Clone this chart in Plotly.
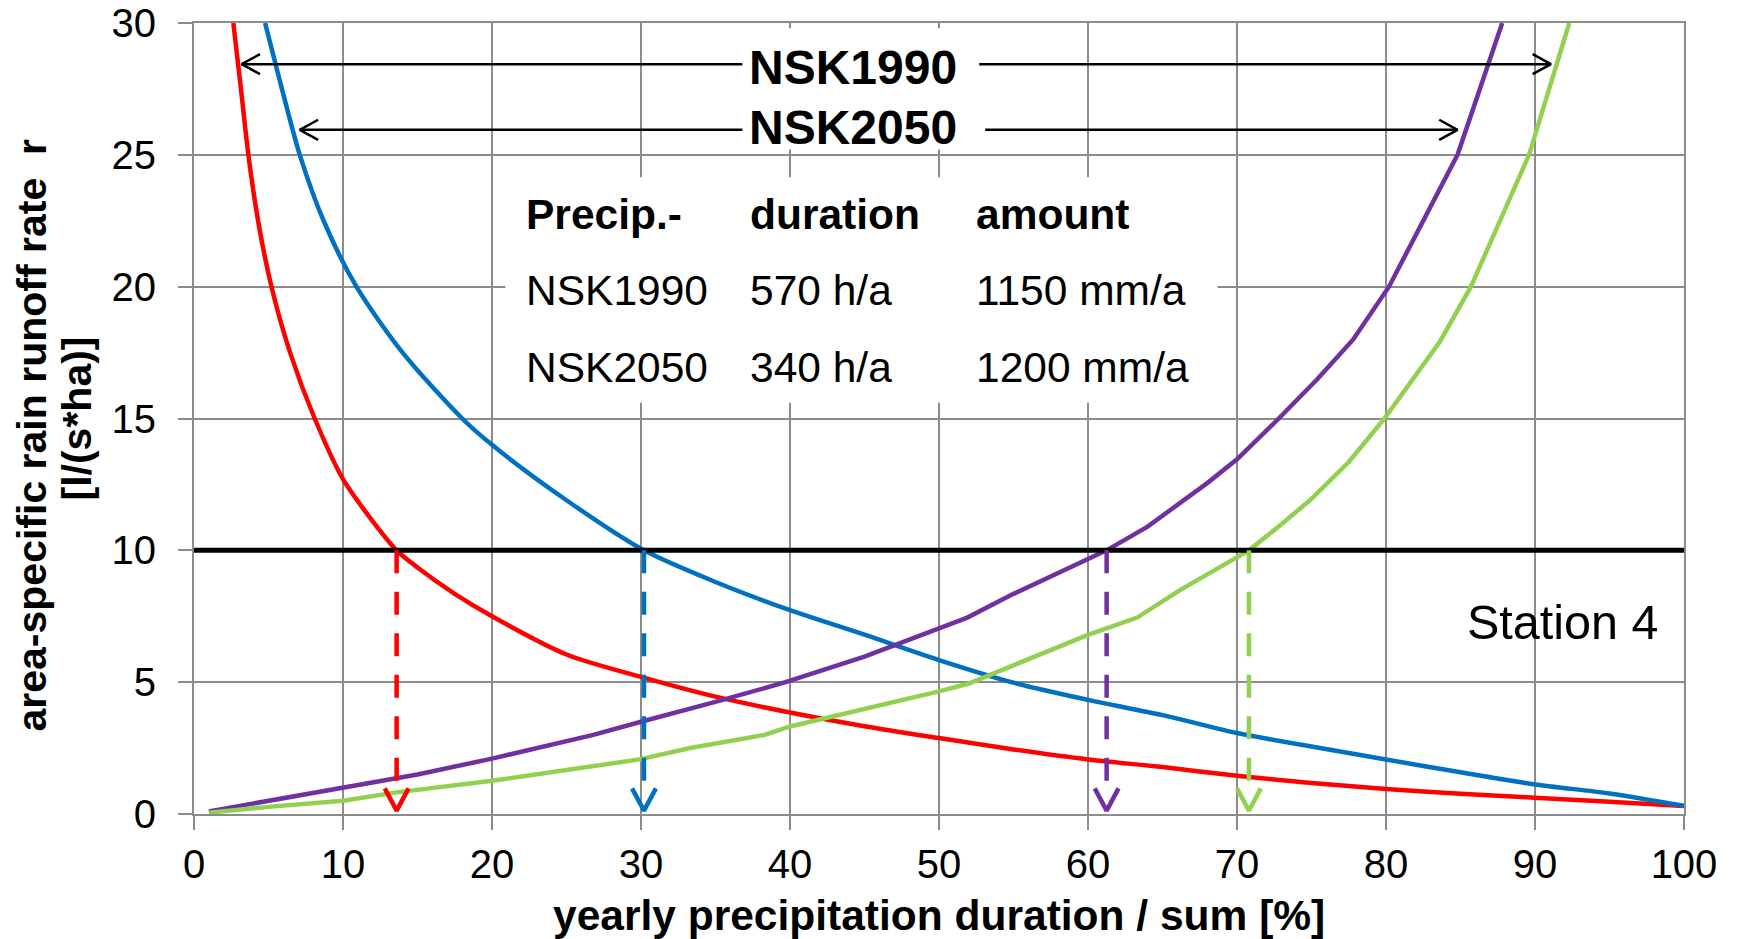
import plotly.graph_objects as go

# ---------------- data ----------------
red_x = [2.64, 3.15, 3.65, 4.3, 5.2, 6.45, 8.1, 10, 12, 13.6, 15, 17.5, 20, 25, 30, 35, 40, 45,
         50, 55, 60, 65, 70, 75, 80, 85, 90, 95, 100]
red_y = [30, 27.5, 25, 22.5, 20, 17.5, 15, 12.7, 11.1, 10, 9.35, 8.35, 7.5, 6.05, 5.2, 4.45, 3.85,
         3.33, 2.88, 2.45, 2.07, 1.78, 1.45, 1.18, 0.95, 0.77, 0.62, 0.46, 0.3]

blue_x = [4.77, 5.9, 7.1, 8.7, 10.9, 14.0, 18.0, 20, 25, 30.2, 35, 40, 45, 50, 55, 60, 65, 70,
          75, 80, 85, 90, 95, 100]
blue_y = [30, 27.5, 25, 22.5, 20, 17.5, 15, 14.0, 11.9, 10, 8.8, 7.73, 6.8, 5.84, 4.98, 4.33,
          3.75, 3.07, 2.56, 2.07, 1.58, 1.12, 0.78, 0.31]

purple_x = [1, 5, 10, 15, 20, 26.8, 30, 35, 39.7, 45, 50, 51.9, 55, 58, 61.25, 64, 66.2, 68, 70,
            72.8, 75.4, 77.8, 80.2, 82.5, 84.8, 86.3, 87.8]
purple_y = [0.1, 0.5, 1.0, 1.5, 2.1, 3.0, 3.5, 4.25, 5.0, 5.97, 7.04, 7.45, 8.35, 9.15, 10, 10.9,
            11.8, 12.55, 13.45, 15, 16.5, 18, 20, 22.5, 25, 27.5, 30]

green_x = [1, 5, 10, 13.6, 20, 25, 30, 33.3, 38.3, 40, 45, 50, 52, 55, 60, 63.3, 66.2, 68.5, 70.8,
           73, 75, 77.5, 79.9, 83.6, 85.7, 89.6, 92.3]
green_y = [0.05, 0.27, 0.5, 0.82, 1.26, 1.68, 2.08, 2.5, 3.0, 3.32, 3.97, 4.65, 4.95, 5.65, 6.79,
           7.45, 8.5, 9.25, 10, 11.0, 11.95, 13.35, 15, 17.9, 20, 25, 30]

threshold = 10
drop_x = [13.6, 30.2, 61.25, 70.8]          # where each curve meets the threshold
drop_end = 1.2                               # end of dashed drop line
drop_tip = 0.13                              # arrow tip value

arrow_labels = ["NSK1990", "NSK2050"]
arrow_y = [28.44, 25.95]
arrow_left = [3.2, 7.1]
arrow_right = [91.07, 84.8]
gap_left = [36.8, 36.8]
gap_right = [52.7, 53.1]

table_header = ["Precip.-", "duration", "amount"]
table_rows = [["NSK1990", "570 h/a", "1150 mm/a"],
              ["NSK2050", "340 h/a", "1200 mm/a"]]

station_label = "Station 4"
x_title = "yearly precipitation duration / sum [%]"
y_title_lines = ["area-specific rain runoff rate  r", "[l/(s*ha)]"]

# ---------------- style ----------------
FONT = "Liberation Sans, Arial, sans-serif"
GRID = "#8c8c8c"
C_RED, C_BLUE, C_PURPLE, C_GREEN = "#ff0000", "#0070c0", "#7030a0", "#92d050"
drop_colors = [C_RED, C_BLUE, C_PURPLE, C_GREEN]

fig = go.Figure()

for xs, ys, col, shp in [(red_x, red_y, C_RED, "spline"), (blue_x, blue_y, C_BLUE, "spline"),
                         (purple_x, purple_y, C_PURPLE, "linear"),
                         (green_x, green_y, C_GREEN, "linear")]:
    fig.add_trace(go.Scatter(x=xs, y=ys, mode="lines",
                             line=dict(color=col, width=4.5, shape=shp, smoothing=0.8),
                             hoverinfo="skip"))

# threshold line
fig.add_trace(go.Scatter(x=[0, 100], y=[threshold, threshold], mode="lines",
                         line=dict(color="black", width=5), hoverinfo="skip"))

# dashed drop arrows
hw, hh = 0.8, 0.84   # chevron half width (x units), height (y units)
for xd, col in zip(drop_x, drop_colors):
    fig.add_trace(go.Scatter(x=[xd, xd], y=[threshold, drop_end], mode="lines",
                             line=dict(color=col, width=4.5, dash="23px,18.5px"),
                             hoverinfo="skip"))
    fig.add_trace(go.Scatter(x=[xd - hw, xd, xd + hw],
                             y=[drop_tip + hh, drop_tip, drop_tip + hh], mode="lines",
                             line=dict(color=col, width=4.5), hoverinfo="skip"))

# horizontal double arrows
ax_len, ax_half = 1.23, 0.38
for yv, xl, xr, gl, gr in zip(arrow_y, arrow_left, arrow_right, gap_left, gap_right):
    fig.add_trace(go.Scatter(x=[xl, gl, None, gr, xr], y=[yv, yv, None, yv, yv], mode="lines",
                             line=dict(color="black", width=2.5), hoverinfo="skip"))
    fig.add_trace(go.Scatter(x=[xl + ax_len, xl, xl + ax_len], y=[yv + ax_half, yv, yv - ax_half],
                             mode="lines", line=dict(color="black", width=2.5), hoverinfo="skip"))
    fig.add_trace(go.Scatter(x=[xr - ax_len, xr, xr - ax_len], y=[yv + ax_half, yv, yv - ax_half],
                             mode="lines", line=dict(color="black", width=2.5), hoverinfo="skip"))

# white masks over gridlines behind labels
fig.add_shape(type="rect", x0=20.9, x1=68.7, y0=15.6, y1=24.15, xref="x", yref="y",
              fillcolor="white", line=dict(width=0), layer="between")
fig.add_shape(type="rect", x0=36.8, x1=52.9, y0=25.2, y1=29.8, xref="x", yref="y",
              fillcolor="white", line=dict(width=0), layer="between")

ann = []
label_y = [28.3, 26.03]
for lab, ly in zip(arrow_labels, label_y):
    ann.append(dict(x=44.2, y=ly, xref="x", yref="y", text="<b>%s</b>" % lab, showarrow=False,
                    font=dict(family=FONT, size=48, color="black"), xanchor="center",
                    yanchor="middle"))

col_x = [22.15, 37.15, 52.35]
row_y = [22.75, 19.87, 16.95]
for cx, t in zip(col_x, table_header):
    ann.append(dict(x=cx, y=row_y[0], xref="x", yref="y", text="<b>%s</b>" % t, showarrow=False,
                    font=dict(family=FONT, size=42.5, color="black"), xanchor="left",
                    yanchor="middle"))
for ry, row in zip(row_y[1:], table_rows):
    for cx, t in zip(col_x, row):
        ann.append(dict(x=cx, y=ry, xref="x", yref="y", text=t, showarrow=False,
                        font=dict(family=FONT, size=42.5, color="black"), xanchor="left",
                        yanchor="middle"))

ann.append(dict(x=98.4, y=7.27, xref="x", yref="y", text=station_label, showarrow=False,
                font=dict(family=FONT, size=48.5, color="black"), xanchor="right",
                yanchor="middle"))

ann.append(dict(x=0.5, y=0, xref="paper", yref="paper", text="<b>%s</b>" % x_title,
                showarrow=False, font=dict(family=FONT, size=42.5, color="black"),
                xanchor="center", yanchor="middle", yshift=-101))
ann.append(dict(x=0, y=0.5, xref="paper", yref="paper", text="<b>%s</b>" % y_title_lines[0],
                showarrow=False, font=dict(family=FONT, size=41, color="black"),
                textangle=-90, xanchor="center", yanchor="middle", xshift=-163, yshift=-17))
ann.append(dict(x=0, y=0.5, xref="paper", yref="paper", text="<b>%s</b>" % y_title_lines[1],
                showarrow=False, font=dict(family=FONT, size=41, color="black"),
                textangle=-90, xanchor="center", yanchor="middle", xshift=-118))

fig.update_layout(
    width=1739, height=939,
    margin=dict(l=194, r=55, t=23, b=125, autoexpand=False),
    paper_bgcolor="white", plot_bgcolor="white",
    showlegend=False,
    annotations=ann,
    font=dict(family=FONT, color="black"),
)
axis_common = dict(showgrid=True, gridcolor=GRID, gridwidth=2, showline=True, linecolor=GRID,
                   linewidth=2, mirror=True, ticks="outside", ticklen=14, tickwidth=2,
                   tickcolor=GRID, zeroline=False, automargin=False,
                   tickfont=dict(family=FONT, size=40, color="black"))
fig.update_xaxes(range=[0, 100], tick0=0, dtick=10, ticklabelstandoff=0, **axis_common)
fig.update_yaxes(range=[0, 30], tick0=0, dtick=5, ticklabelstandoff=14, **axis_common)

fig.write_html("out.html")
